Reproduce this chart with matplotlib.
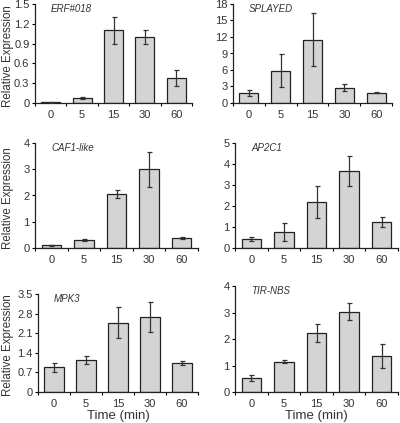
import matplotlib.pyplot as plt
import numpy as np

plt.rcParams['font.family'] = ['Liberation Sans', 'DejaVu Sans']

times = ['0', '5', '15', '30', '60']

genes = ['ERF#018', 'SPLAYED', 'CAF1-like', 'AP2C1', 'MPK3', 'TIR-NBS']

erf_mean = [0.01, 0.08, 1.10, 1.00, 0.38]
erf_err = [0.005, 0.015, 0.20, 0.10, 0.12]

spl_mean = [1.8, 5.9, 11.5, 2.8, 1.9]
spl_err = [0.5, 3.0, 4.8, 0.6, 0.15]

caf_mean = [0.10, 0.30, 2.07, 3.00, 0.38]
caf_err = [0.01, 0.03, 0.15, 0.67, 0.03]

ap2_mean = [0.43, 0.77, 2.18, 3.67, 1.24]
ap2_err = [0.10, 0.43, 0.77, 0.72, 0.22]

mpk_mean = [0.88, 1.15, 2.48, 2.68, 1.05]
mpk_err = [0.15, 0.15, 0.55, 0.55, 0.07]

tir_mean = [0.53, 1.15, 2.23, 3.03, 1.35]
tir_err = [0.13, 0.07, 0.35, 0.32, 0.45]

yticks = [
    [0, 0.3, 0.6, 0.9, 1.2, 1.5],
    [0, 3, 6, 9, 12, 15, 18],
    [0, 1, 2, 3, 4],
    [0, 1, 2, 3, 4, 5],
    [0, 0.7, 1.4, 2.1, 2.8, 3.5],
    [0, 1, 2, 3, 4],
]

means = [erf_mean, spl_mean, caf_mean, ap2_mean, mpk_mean, tir_mean]
errs = [erf_err, spl_err, caf_err, ap2_err, mpk_err, tir_err]

# axes boxes in pixels: left, right, top, bottom (figure is 400x423)
W, H = 400.0, 423.0
boxes = [
    (35, 192, 4, 103),
    (233, 392, 4, 103),
    (35, 198, 143, 248),
    (235, 398, 143, 248),
    (38, 198, 294, 392),
    (235, 398, 286, 392),
]


def fmt(v):
    if v == 0:
        return '0'
    if float(v).is_integer():
        return str(int(v))
    return '%g' % v


fig = plt.figure(figsize=(4.0, 4.23), dpi=100)
x = np.arange(len(times))

for i, gene in enumerate(genes):
    l, r, t, b = boxes[i]
    ax = fig.add_axes([l / W, 1 - b / H, (r - l) / W, (b - t) / H])
    ax.bar(x, means[i], width=0.6, color='#d4d4d4', edgecolor='#222222',
           linewidth=0.9, zorder=2)
    ax.errorbar(x, means[i], yerr=errs[i], fmt='none', ecolor='#333333',
                elinewidth=0.9, capsize=1.8, capthick=0.9, zorder=3)
    ax.set_xlim(-0.5, 4.5)
    ax.set_ylim(0, yticks[i][-1])
    ax.set_yticks(yticks[i])
    ax.set_yticklabels([fmt(v) for v in yticks[i]], fontsize=8, color='#333333')
    ax.set_xticks(x)
    ax.set_xticklabels(times, fontsize=8, color='#333333')
    ax.set_xticks(np.arange(-0.5, 5, 1.0), minor=True)
    ax.tick_params(axis='x', which='major', length=0, pad=5)
    ax.tick_params(axis='x', which='minor', length=2.5, width=0.8, direction='out')
    ax.tick_params(axis='y', length=2, width=0.8, pad=2)
    for s in ['top', 'right']:
        ax.spines[s].set_visible(False)
    for s in ['left', 'bottom']:
        ax.spines[s].set_linewidth(0.9)
        ax.spines[s].set_color('#222222')
    ax.text(0.1, 0.95, gene, transform=ax.transAxes, fontsize=7,
            style='italic', color='#333333', va='center', ha='left')
    if i % 2 == 0:
        fig.text(8 / W, 1 - (t + b + 5) / 2 / H, 'Relative Expression',
                 rotation=90, fontsize=8.3, color='#333333',
                 ha='center', va='center')
    if i >= 4:
        fig.text((l + r) / 2 / W, 1 - 416 / H, 'Time (min)', fontsize=9.5,
                 color='#333333', ha='center', va='center')

fig.savefig('out.png', dpi=100)
